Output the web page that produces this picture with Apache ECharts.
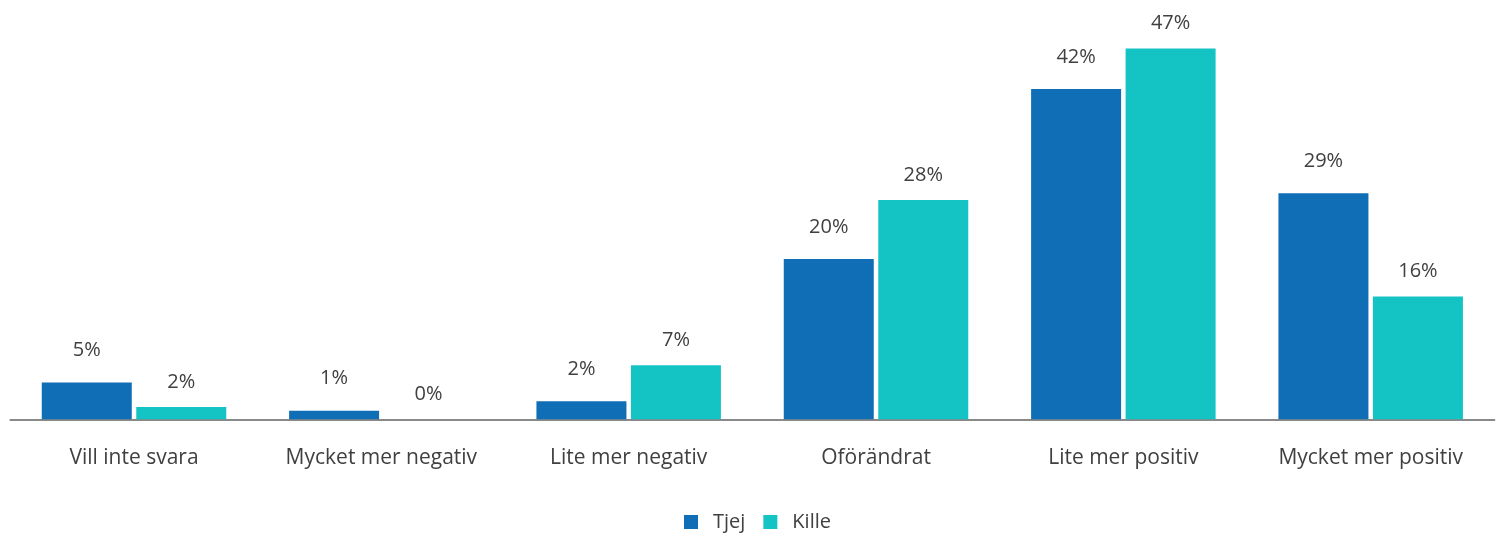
<!DOCTYPE html>
<html>
<head>
<meta charset="utf-8">
<script src="https://cdn.jsdelivr.net/npm/echarts@6/dist/echarts.min.js"></script>
<style>
html,body{margin:0;padding:0;background:#fff;}
#chart{width:1496px;height:536px;}
</style>
</head>
<body>
<div id="chart"></div>
<script>
var categories = ['Vill inte svara','Mycket mer negativ','Lite mer negativ','Oförändrat','Lite mer positiv','Mycket mer positiv'];
var seriesNames = ['Tjej','Kille'];
var tjejValues = [4.65, 1.09, 2.28, 20.3, 41.85, 28.66];
var killeValues = [1.56, 0, 6.85, 27.8, 47, 15.55];

var FONT = 'Open Sans';
var TEXT = '#404040';

var chart = echarts.init(document.getElementById('chart'));
chart.setOption({
  backgroundColor: '#ffffff',
  animation: false,
  grid: { left: 10.35, right: 1.65, top: 24.75, bottom: 116.7, containLabel: false },
  legend: {
    data: seriesNames,
    left: 679,
    top: 507,
    itemWidth: 14,
    itemHeight: 14,
    itemGap: 18,
    icon: 'rect',
    textStyle: { fontFamily: FONT, fontSize: 20, color: TEXT, lineHeight: 20, padding: [0,0,0,10] }
  },
  xAxis: {
    type: 'category',
    data: categories,
    axisLine: { show: true, lineStyle: { color: '#898989', width: 2 } },
    axisTick: { show: false },
    axisLabel: { fontFamily: FONT, fontSize: 21, color: TEXT, margin: 28, interval: 0 }
  },
  yAxis: {
    type: 'value',
    min: 0,
    max: 50,
    show: false,
    splitLine: { show: false }
  },
  series: [
    {
      name: seriesNames[0],
      type: 'bar',
      data: tjejValues,
      barWidth: 90,
      barGap: '5%',
      itemStyle: { color: '#106EB6' },
      label: {
        show: true, position: 'top', distance: 22,
        fontFamily: FONT, fontSize: 20, color: TEXT, lineHeight: 20,
        formatter: function (p) { return Math.round(p.value) + '%'; }
      }
    },
    {
      name: seriesNames[1],
      type: 'bar',
      data: killeValues,
      barWidth: 90,
      barGap: '5%',
      itemStyle: { color: '#14C4C4' },
      label: {
        show: true, position: 'top', distance: 15,
        fontFamily: FONT, fontSize: 20, color: TEXT, lineHeight: 20,
        formatter: function (p) { return Math.round(p.value) + '%'; }
      }
    }
  ]
});
</script>
</body>
</html>
